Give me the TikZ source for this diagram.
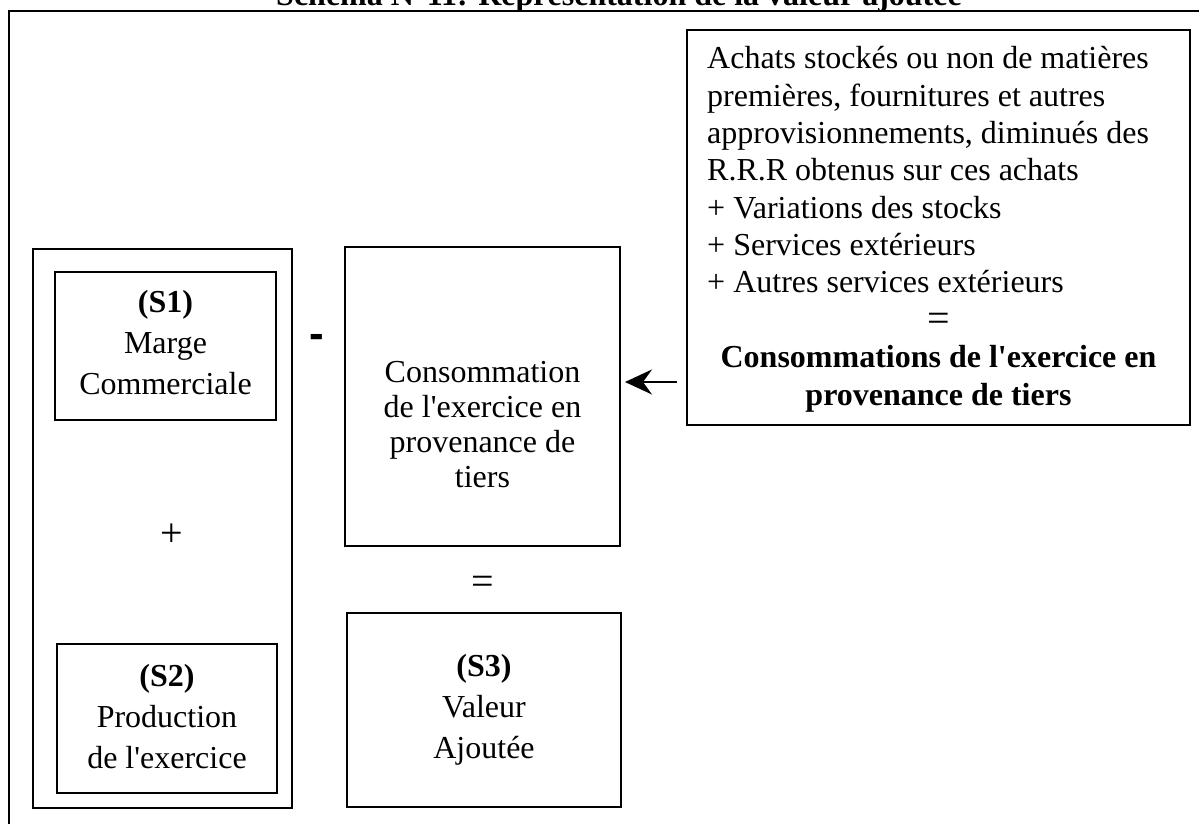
\documentclass[tikz,border=0pt]{standalone}
\usepackage{fontspec}
\setmainfont{Liberation Serif}
\newfontfamily\dashfont{Liberation Sans}
\usetikzlibrary{arrows.meta}
\newcommand{\qsingle}{\textquotesingle}
\begin{document}
\begin{tikzpicture}[x=1pt,y=-1pt,
  box/.style={draw, line width=1.8pt, inner sep=0pt, outer sep=0pt},
  txt/.style={inner sep=0pt, anchor=base, font=\fontsize{32}{41}\selectfont},
  sign/.style={inner sep=0pt, font=\fontsize{40}{40}\selectfont},
  list/.style={inner sep=0pt, anchor=base west, font=\fontsize{32}{37.3}\selectfont},
  boldlist/.style={inner sep=0pt, anchor=base, font=\bfseries\fontsize{32}{37.3}\selectfont},
  flow/.style={line width=1.8pt, -{Stealth[length=27pt,width=25pt,inset=9pt]}}]
\clip (0,0) rectangle (1199,824);

% heading and page frame
\node[inner sep=0pt, anchor=base east, font=\bfseries\fontsize{32}{37}\selectfont] (title) at (962,6)
  {Schéma N°11: Représentation de la valeur ajoutée};
\draw[line width=1.8pt] (9,830) -- (9,11) -- (1205,11);

% left column: S1 + S2
\node[box, minimum width=259, minimum height=559] (left) at (162.5,528.5) {};
\node[box, minimum width=221, minimum height=148] (s1) at (165.5,346) {};
\node[box, minimum width=220, minimum height=149] (s2) at (167,718.5) {};
\node[txt] (s1t) at (165.5,312) {\begin{tabular}[t]{@{}c@{}}\textbf{(S1)}\\ Marge\\ Commerciale\end{tabular}};
\node[sign] (plus) at (172,535) {+};
\node[txt] (s2t) at (167,686) {\begin{tabular}[t]{@{}c@{}}\textbf{(S2)}\\ Production\\ de l\qsingle exercice\end{tabular}};

% minus sign
\node[inner sep=0pt, font=\dashfont\bfseries\fontsize{44}{44}\selectfont] (minus) at (316.5,341) {-};

% middle column: consumption and value added
\node[box, minimum width=275, minimum height=299] (cons) at (482.5,396.5) {};
\node[txt, font=\fontsize{32}{35}\selectfont] (const) at (482.5,382)
  {\begin{tabular}[t]{@{}c@{}}Consommation\\ de l\qsingle exercice en\\ provenance de\\ tiers\end{tabular}};
\node[sign] (eq) at (482.5,585) {=};
\node[box, minimum width=274, minimum height=194] (s3) at (484,710) {};
\node[txt] (s3t) at (484,676) {\begin{tabular}[t]{@{}c@{}}\textbf{(S3)}\\ Valeur\\ Ajoutée\end{tabular}};

% right: detail of the consumption
\node[box, minimum width=503, minimum height=395] (rbox) at (938.5,227.5) {};
\node[list] (rlist) at (707,69) {\begin{tabular}[t]{@{}l@{}}Achats stockés ou non de matières\\
  premières, fournitures et autres\\
  approvisionnements, diminués des\\
  R.R.R obtenus sur ces achats\\
  + Variations des stocks\\
  + Services extérieurs\\
  + Autres services extérieurs\end{tabular}};
\node[sign] (req) at (938.5,322) {=};
\node[boldlist] (rsum) at (938.5,367.7) {\begin{tabular}[t]{@{}c@{}}Consommations de l\qsingle exercice en\\ provenance de tiers\end{tabular}};

% arrow into the consumption box
\coordinate (ay) at (0,382);
\draw[flow, shorten <=10pt, shorten >=5pt] (rbox.west |- ay) -- (cons.east |- ay);
\end{tikzpicture}
\end{document}
